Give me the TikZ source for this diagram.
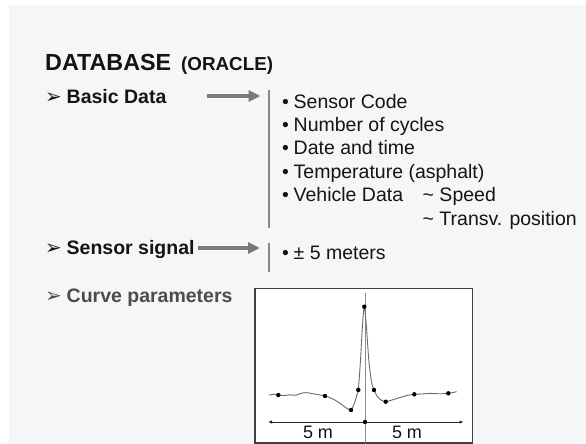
\documentclass[tikz,border=0pt]{standalone}
\usepackage{fontspec}
\setmainfont{Liberation Sans}
\newfontfamily\dejavu{DejaVu Sans}
\usetikzlibrary{arrows.meta}
\definecolor{bgc}{HTML}{F6F6F6}
\definecolor{txt}{HTML}{141414}
\definecolor{arrc}{HTML}{7A7A7A}
\definecolor{vlc}{HTML}{888888}
\definecolor{crv}{HTML}{6A6A6A}
\definecolor{boxc}{HTML}{404040}
\definecolor{grayt}{HTML}{4C4C4C}
\tikzset{
  lbl/.style={anchor=base west, inner sep=0, text=txt, font=\fontsize{19.5}{23}\selectfont\bfseries},
  itm/.style={anchor=base west, inner sep=0, text=txt, font=\fontsize{19.5}{23}\selectfont},
  bul/.style={anchor=base, inner sep=0, text=txt, font=\fontsize{19.5}{23}\selectfont},
  tipmark/.style={anchor=base west, inner sep=0, text=txt, font=\dejavu\fontsize{20}{22}\selectfont},
  fatarrow/.style={draw=arrc, line width=4pt, -{Triangle[length=12pt,width=11pt]}},
  vline/.style={draw=vlc, line width=2pt},
  dotp/.style={circle, fill=black, inner sep=0, minimum size=4.4pt},
  axis/.style={draw=black!85, line width=0.8pt, {Latex[length=4pt,width=3.5pt]}-{Latex[length=4pt,width=3.5pt]}},
  mlabel/.style={anchor=base, inner sep=0, text=txt, font=\fontsize{18}{20}\selectfont}
}
\begin{document}
\begin{tikzpicture}[x=1pt,y=-1pt]
\useasboundingbox (0,0) rectangle (586,444);
\fill[bgc] (9,5) rectangle (586,444);

% title
\node[lbl, font=\fontsize{23.3}{26}\selectfont\bfseries] (title) at (45,70.5) {DATABASE};
\node[lbl, font=\fontsize{18.8}{22}\selectfont\bfseries] (oracle) at (181,70.5) {(ORACLE)};

% Basic data
\node[tipmark] (m1) at (45,103.3) {➢};
\node[lbl] (basic) at (66.5,103.3) {Basic Data};
\coordinate (a1s) at (206.7,96);
\coordinate (a1e) at (260.5,96);
\draw[fatarrow] (a1s) -- (a1e);
\coordinate (v1t) at (269,90);
\coordinate (v1b) at (269,227.5);
\draw[vline] (v1t) -- (v1b);

\node[bul] (b1) at (285.5,108.3) {•};
\node[itm] (i1) at (293.5,108.3) {Sensor Code};
\node[bul] (b2) at (285.5,131.7) {•};
\node[itm] (i2) at (293.5,131.7) {Number of cycles};
\node[bul] (b3) at (285.5,154.8) {•};
\node[itm] (i3) at (293.5,154.8) {Date and time};
\node[bul] (b4) at (285.5,178.3) {•};
\node[itm] (i4) at (293.5,178.3) {Temperature (asphalt)};
\node[bul] (b5) at (285.5,201.9) {•};
\node[itm] (i5) at (293.5,201.9) {Vehicle Data};
\node[itm] (s1) at (422.5,201.9) {\char`\~\ Speed};
\node[itm] (s2) at (422.5,225.2) {\char`\~\ Transv. position};

% Sensor signal
\node[tipmark] (m2) at (45,254.3) {➢};
\node[lbl] (sens) at (66.5,254.3) {Sensor signal};
\coordinate (a2s) at (198.3,248);
\coordinate (a2e) at (260,248);
\draw[fatarrow] (a2s) -- (a2e);
\coordinate (v2t) at (269,243);
\coordinate (v2b) at (269,272);
\draw[vline] (v2t) -- (v2b);
\node[bul] (b6) at (285.5,259) {•};
\node[itm] (i6) at (293.5,259) {± 5 meters};

% Curve parameters
\node[tipmark, text=grayt] (m3) at (45,302.3) {➢};
\node[lbl, text=grayt] (curve) at (66.5,302.3) {Curve parameters};

% plot box
\draw[boxc, fill=white, line width=1.3pt] (255,288.3) rectangle (472.3,443);
\coordinate (ct) at (365,293);
\coordinate (cb) at (365,443);
\draw[black!45, line width=0.8pt] (ct) -- (cb);
\coordinate (axl) at (268,422);
\coordinate (axr) at (463.5,422);
\draw[axis] (axl) -- (axr);
\node[dotp] (c0) at (365,422) {};
\node[mlabel] (l1) at (318,438.5) {5 m};
\node[mlabel] (l2) at (407,438.5) {5 m};

\draw[crv, line width=0.9pt] plot[smooth, tension=0.45] coordinates {
 (269,395) (274,394.3) (278.3,395) (284,395.6) (290,394.8) (296,395.3) (300,393.6)
 (306,392.6) (312,393.6) (318,394.6) (325,396) (333,399) (341,404) (347,408.5)
 (351,410) (354.5,403) (356.8,395) (358.3,390) (360.5,360) (362.5,325) (364.3,306.7)
 (366.3,325) (368.8,360) (371.5,382) (374,390) (377,396) (381,400) (385.7,401.7)
 (392,400) (400,397.5) (407,395.5) (414.3,394.3) (422,394) (430,393.4) (440,393.8)
 (448.3,393.3) (456.7,391.7)};
\foreach \n/\p in {d1/{(278.3,395)}, d2/{(325,396)}, d3/{(351,410)}, d4/{(358.3,390)},
  d5/{(364.3,306.7)}, d6/{(374,390)}, d7/{(385.7,401.7)}, d8/{(414.3,394.3)}, d9/{(448.3,393.3)}}
  \node[dotp] (\n) at \p {};
\end{tikzpicture}
\end{document}
